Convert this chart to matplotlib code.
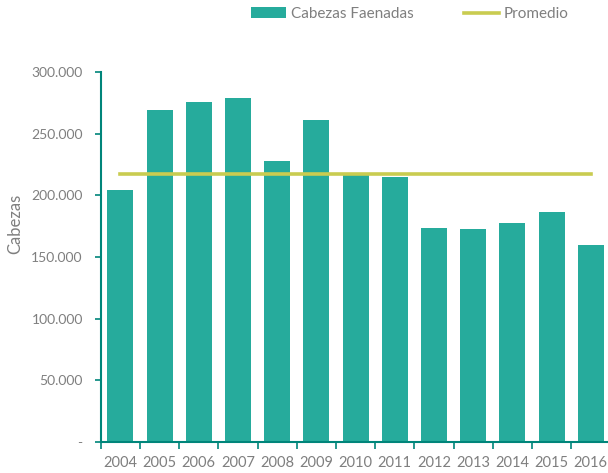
import matplotlib.pyplot as plt
import numpy as np
from matplotlib.ticker import FuncFormatter

years = ["2004", "2005", "2006", "2007", "2008", "2009", "2010",
         "2011", "2012", "2013", "2014", "2015", "2016"]
cabezas = [204500, 268800, 275300, 279300, 227500, 260700, 217800,
           214800, 173700, 172600, 177500, 186700, 159700]
promedio = [216900] * len(years)
y_ticks = [0, 50000, 100000, 150000, 200000, 250000, 300000]

bar_color = "#26ab9c"
line_color = "#c9cc50"
axis_color = "#00857a"
text_color = "#7f7f7f"

plt.rcParams["font.family"] = ["Lato", "DejaVu Sans"]

fig = plt.figure(figsize=(6.08, 4.73), dpi=100)
ax = fig.add_axes([100.8 / 608, 31 / 473, 509.6 / 608, 370 / 473])

x = np.arange(len(years))
bars = ax.bar(x, cabezas, width=0.66, color=bar_color, label="Cabezas Faenadas", zorder=2)
line, = ax.plot(x, promedio, color=line_color, linewidth=2.6, label="Promedio", zorder=3)

ax.set_xlim(-0.5, len(years) - 0.5)
ax.set_ylim(0, 300000)
ax.set_yticks(y_ticks)


def fmt(v, pos):
    if v == 0:
        return "-"
    return "{:,.0f}".format(v).replace(",", ".")


ax.yaxis.set_major_formatter(FuncFormatter(fmt))
ax.set_xticks(x)
ax.set_xticklabels(years)
ax.set_xticks(np.arange(len(years) + 1) - 0.5, minor=True)
ax.tick_params(axis="x", which="major", length=0, pad=10, labelsize=10.5, colors=text_color)
ax.tick_params(axis="x", which="minor", length=5, color=axis_color, width=1.2)
ax.tick_params(axis="y", length=4, color=axis_color, width=1.2, pad=9,
               labelsize=10, labelcolor=text_color)

for side in ["top", "right"]:
    ax.spines[side].set_visible(False)
for side in ["left", "bottom"]:
    ax.spines[side].set_color(axis_color)
    ax.spines[side].set_linewidth(1.5)

ax.set_ylabel("Cabezas", color=text_color, fontsize=12)
ax.yaxis.set_label_coords(-0.152, 0.59)

fig.legend([bars, line], ["Cabezas Faenadas", "Promedio"],
           loc="upper left", bbox_to_anchor=(251 / 608, 1 - 7 / 473), ncol=2,
           frameon=False, fontsize=11, labelcolor=text_color,
           handlelength=2.3, handletextpad=0.3, columnspacing=3.3,
           borderaxespad=0, borderpad=0)

fig.savefig("out.png", dpi=100)
